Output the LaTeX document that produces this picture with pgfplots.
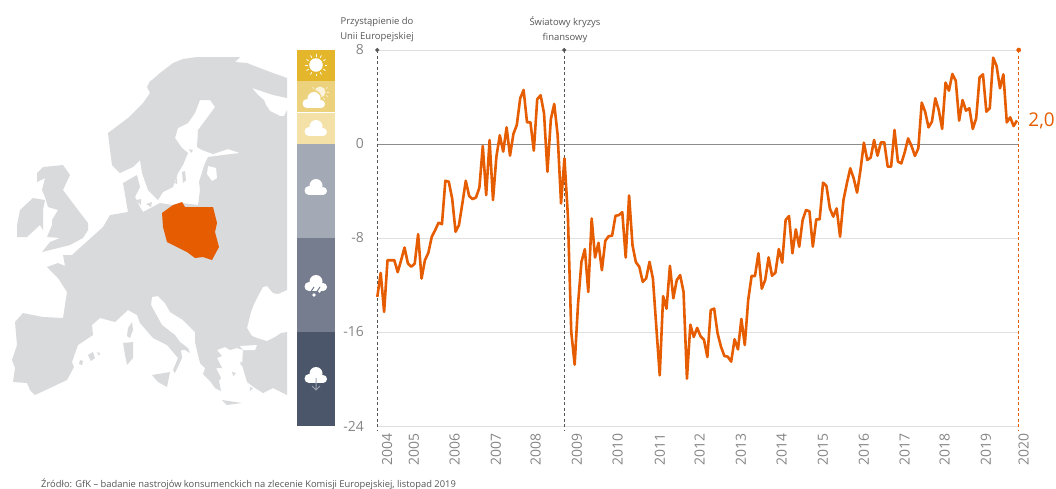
\documentclass[border=0pt]{standalone}
\usepackage{pgfplots}
\pgfplotsset{compat=1.18}
\usepackage{pgfplotstable}
\usepackage{fontspec}
\setmainfont{Open Sans}
\definecolor{org}{HTML}{E65C00}
\definecolor{mapg}{HTML}{D9DADC}
\definecolor{txt}{HTML}{858585}
\definecolor{dk}{HTML}{555555}
\definecolor{bA}{HTML}{E3B62B}
\definecolor{bB}{HTML}{EDD27E}
\definecolor{bC}{HTML}{F3E1A8}
\definecolor{bD}{HTML}{A4A9B6}
\definecolor{bE}{HTML}{767D8E}
\definecolor{bF}{HTML}{4B566B}
\pgfplotstableread{
i v
0 -13.01
1 -10.97
2 -14.29
3 -9.89
4 -9.89
5 -9.89
6 -10.91
7 -9.89
8 -8.81
9 -10.17
10 -10.45
11 -10.17
12 -7.67
13 -11.45
14 -9.89
15 -9.26
16 -7.90
17 -7.33
18 -6.70
19 -6.82
20 -3.13
21 -3.21
22 -4.63
23 -7.47
24 -6.90
25 -5.06
26 -3.13
27 -4.43
28 -4.69
29 -4.55
30 -3.72
31 -0.17
32 -4.35
33 0.34
34 -4.77
35 -1.08
36 0.74
37 -0.65
38 1.42
39 -0.99
40 0.85
41 1.62
42 3.89
43 4.60
44 1.85
45 1.85
46 -0.57
47 3.81
48 4.15
49 2.61
50 -2.36
51 2.10
52 3.41
53 0.77
54 -5.06
55 -1.22
56 -6.05
57 -15.99
58 -18.78
59 -13.58
60 -10.03
61 -8.95
62 -12.59
63 -6.34
64 -9.66
65 -8.41
66 -10.74
67 -8.24
68 -7.84
69 -7.81
70 -6.11
71 -6.05
72 -5.80
73 -9.66
74 -4.38
75 -8.61
76 -10.06
77 -10.45
78 -11.73
79 -11.45
80 -10.03
81 -11.45
82 -15.57
83 -19.69
84 -12.95
85 -14.01
86 -10.37
87 -13.13
88 -11.59
89 -11.16
90 -12.59
91 -19.97
92 -15.37
93 -16.42
94 -15.65
95 -16.36
96 -16.65
97 -18.13
98 -14.13
99 -14.01
100 -16.11
101 -17.25
102 -18.04
103 -18.10
104 -18.52
105 -16.62
106 -17.48
107 -14.89
108 -17.11
109 -13.28
110 -11.23
111 -11.23
112 -9.30
113 -12.31
114 -11.57
115 -9.65
116 -11.21
117 -10.95
118 -8.94
119 -10.10
120 -6.47
121 -6.13
122 -9.30
123 -7.26
124 -8.74
125 -6.47
126 -5.62
127 -5.73
128 -8.74
129 -6.41
130 -6.41
131 -3.29
132 -3.57
133 -5.48
134 -6.18
135 -5.48
136 -7.89
137 -4.77
138 -3.35
139 -2.07
140 -2.92
141 -4.14
142 -2.21
143 0.11
144 -1.36
145 -1.16
146 0.34
147 -0.99
148 0.14
149 0.14
150 -1.93
151 -1.93
152 1.19
153 -1.50
154 -1.65
155 -0.71
156 0.48
157 -0.17
158 -1.02
159 -0.37
160 3.52
161 2.75
162 1.42
163 1.90
164 3.89
165 2.89
166 1.28
167 5.22
168 4.54
169 5.96
170 5.39
171 1.99
172 3.74
173 2.84
174 3.04
175 1.28
176 2.18
177 5.67
178 5.93
179 2.75
180 3.04
181 7.35
182 6.64
183 4.74
184 5.93
185 1.84
186 2.27
187 1.53
188 2.00
}\cci
\newcommand{\cloud}[2]{% x y
  \fill[white] (#1-7,#2+3.5) circle (4.5);
  \fill[white] (#1+7,#2+4) circle (4);
  \fill[white] (#1,#2-1.5) circle (6.5);
  \fill[white] (#1-7,#2+2) rectangle (#1+7,#2+8);}
\begin{document}
\begin{tikzpicture}
\path[use as bounding box] (0,0) rectangle (1056bp,-489bp);
\begin{scope}[x=1bp,y=-1bp]
% map
\fill[mapg] (150,81)--(152,80)--(160,73)--(173,63)--(183,59)--(197,57)--(240,57)--(235,62)--(247,63)--(257,67)--(273,73)--(287,78)--(287,98)--(273,95)--(252,88)--(258,95)--(264,100)--(266,105)--(270,111)--(280,116)--(284,116)--(287,110)
--(287,290)--(278,294)--(273,293)--(267,286)--(263,287)--(258,296)--(254,304)--(251,312)--(247,328)--(252,336)--(260,339)--(267,341)--(275,337)--(281,333)--(287,332)
--(287,395)--(273,388)--(263,393)--(255,388)--(247,382)--(242,365)--(243,350)--(237,348)--(230,350)--(225,347)--(217,350)--(222,356)--(217,358)--(222,368)--(216,368)--(221,378)--(219,381)--(221,391)--(215,388)--(210,381)--(203,374)--(205,368)--(200,363)--(198,355)--(195,342)--(195,332)
--(183,320)--(170,312)--(165,303)--(158,296)--(152,297)--(151,305)--(162,325)--(175,335)--(180,342)--(188,348)--(190,353)--(185,350)--(181,350)--(182,358)--(175,373)--(173,370)--(178,358)--(167,345)--(153,338)--(140,323)--(137,315)--(128,310)
--(115,322)--(100,318)--(92,325)--(93,335)--(78,345)--(72,362)--(74,367)--(67,380)--(50,388)--(35,395)--(30,390)--(27,383)--(13,382)--(15,368)--(12,360)--(17,345)--(15,322)--(23,313)--(43,317)--(63,318)--(67,292)--(58,278)--(47,267)--(58,263)--(65,266)--(63,255)--(72,255)--(83,245)--(103,227)--(110,215)--(128,212)--(123,183)--(137,175)--(140,187)--(135,197)--(140,207)--(143,212)--(160,203)--(173,205)--(182,203)--(198,205)--(200,190)--(199,182)--(205,163)--(208,157)--(223,155)--(240,153)--(228,149)--(213,154)--(202,150)--(197,147)--(198,130)--(207,118)--(215,107)--(210,100)--(200,100)--(195,113)--(188,123)--(178,128)--(175,138)--(182,148)--(188,153)--(183,165)--(178,173)--(173,187)--(163,192)--(158,200)--(148,190)--(142,173)--(140,160)--(133,167)--(120,173)--(112,165)--(110,150)--(108,133)--(128,118)--(143,103)--(150,93)--(147,87)--cycle;
% Ireland, UK
\fill[mapg] (37,173)--(43,167)--(63,165)--(70,175)--(63,190)--(78,210)--(88,223)--(88,230)--(83,238)--(70,245)--(42,252)--(50,242)--(60,238)--(47,237)--(52,225)--(52,220)--(58,210)--(48,207)--(45,197)--(42,190)--(45,178)--(37,182)--cycle;
\fill[mapg] (20,210)--(33,198)--(45,200)--(43,210)--(43,230)--(40,225)--(27,237)--(17,237)--(17,225)--cycle;
% islands
\fill[mapg] (128,328)--(132,322)--(133,330)--(130,338)--(127,336)--cycle;
\fill[mapg] (123,343)--(133,342)--(133,358)--(127,365)--(125,355)--cycle;
\fill[mapg] (88,355)--(93,352)--(95,358)--(91,361)--cycle (80,360)--(83,361)--(82,365)--(79,364)--cycle (97,352)--(100,353)--(99,356)--cycle;
\fill[mapg] (152,375)--(170,372)--(167,387)--(158,382)--cycle;
\fill[mapg] (222,400)--(242,403)--(227,405)--cycle;
\fill[mapg] (182,172)--(185,171)--(186,180)--(183,183)--cycle (189,149)--(193,150)--(191,153)--cycle (146,204)--(152,202)--(151,207)--cycle (136,200)--(141,199)--(141,205)--cycle (175,183)--(177,176)--(177,184)--cycle;
\fill[mapg] (250,387)--(253,388)--(250,391)--cycle (232,372)--(236,373)--(233,376)--cycle (240,362)--(243,363)--(241,366)--cycle;
\fill[white] (208,166)--(216,168)--(217,178)--(212,181)--(207,174)--cycle;
\fill[white] (240,346)--(257,345)--(255,350)--(243,350)--cycle;
% Poland
\fill[org] (162,213)--(173,205)--(182,202)--(185,207)--(213,207)--(217,223)--(215,232)--(219,247)--(212,260)--(203,257)--(195,258)--(187,252)--(177,247)--(167,242)--(163,227)--cycle;
% bands
\fill[bA] (297,49.5) rectangle (335,80.5);
\fill[bB] (297,81) rectangle (335,111.5);
\fill[bC] (297,112.5) rectangle (335,144);
\fill[bD] (297,144) rectangle (335,238);
\fill[bE] (297,238) rectangle (335,332);
\fill[bF] (297,332) rectangle (335,426);
% sun
\fill[white] (316,65) circle (6.8);
\foreach \a in {0,30,...,330}{\draw[white,line width=0.8bp] (316,65)++(\a:8.5)--++(\a:2.5);}
% sun + cloud
\fill[white!75!bB] (320,92) circle (5.5);
\foreach \a in {-30,0,30,60,90,120,150,180,210}{\draw[white!75!bB,line width=0.6bp] (320,92)++(\a:7)--++(\a:2);}
\fill[bB] (313.5,98) circle (8);
\cloud{314}{100}
\cloud{316}{128}
\cloud{316}{187}
\cloud{316}{283}
\draw[bE,line width=1bp] (314,287)--(311,291.5) (320,287)--(317,291.5);
\fill[white] (314,295) circle (1.8) (319.5,291.5) circle (1.3);
\cloud{316}{375}
\draw[bF!55!white,line width=1bp] (316,378)--(316,390) (312,386)--(316,390)--(320,386);
\end{scope}
\begin{axis}[
  at={(377.3bp,-426bp)},anchor=south west,
  width=641.4bp,height=376bp,scale only axis,
  xmin=0,xmax=188.5,ymin=-24,ymax=8,clip=false,
  axis line style={draw=none},tick style={draw=none},
  ytick={-24,-16,-8,0,8},yticklabels={-24,-16,-8,0,8},
  ymajorgrids,grid style={draw=black!12,line width=0.9bp},
  xtick={1.09,9.0,21.0,33.1,44.8,56.9,68.9,81.3,93.0,105.1,117.1,129.2,141.2,153.2,165.0,177.1,188.2},
  xticklabels={2004,2005,2006,2007,2008,2009,2010,2011,2012,2013,2014,2015,2016,2017,2018,2019,2020},
  xticklabel style={rotate=90,anchor=east,xshift=-4bp,text=txt,font=\fontsize{14}{16}\selectfont,yshift=-6bp},
  yticklabel style={text=txt,font=\fontsize{14}{16}\selectfont,anchor=east,xshift=-10bp},
]
\addplot[draw=black!45,line width=1bp,forget plot] coordinates {(0,0)(188.5,0)};
\addplot[draw=dk,line width=0.8bp,dash pattern=on 3bp off 2.5bp,forget plot] coordinates {(0,8)(0,-24.3)};
\addplot[draw=dk,line width=0.8bp,dash pattern=on 3bp off 2.5bp,forget plot] coordinates {(54.95,8)(54.95,-24.3)};
\addplot[draw=org,line width=0.8bp,dash pattern=on 3bp off 2.5bp,forget plot] coordinates {(188.5,8)(188.5,-24.3)};
\addplot[only marks,mark=*,mark size=1.9bp,mark options={fill=dk,draw=dk},forget plot] coordinates {(0,8)(54.95,8)};
\addplot[only marks,mark=*,mark size=2.1bp,mark options={fill=org,draw=org},forget plot] coordinates {(188.5,8)};
\addplot[draw=org,line width=2.6bp,line join=round] table[x=i,y=v] {\cci};
\node[anchor=west,text=org,font=\fontsize{19}{21}\selectfont,inner sep=0pt] at (axis cs:191.3,2) {2,0};
\end{axis}
\node[align=center,text=dk,font=\fontsize{9.5}{15}\selectfont,inner sep=0pt,anchor=center] at (377bp,-29.5bp) {Przystąpienie do\\Unii Europejskiej};
\node[align=center,text=dk,font=\fontsize{9.5}{15}\selectfont,inner sep=0pt,anchor=center] at (565bp,-29.5bp) {Światowy kryzys\\finansowy};
\node[anchor=west,text=dk,font=\fontsize{9.4}{11}\selectfont,inner sep=0pt] at (41bp,-484bp) {Źródło: GfK – badanie nastrojów konsumenckich na zlecenie Komisji Europejskiej, listopad 2019};
\end{tikzpicture}
\end{document}
